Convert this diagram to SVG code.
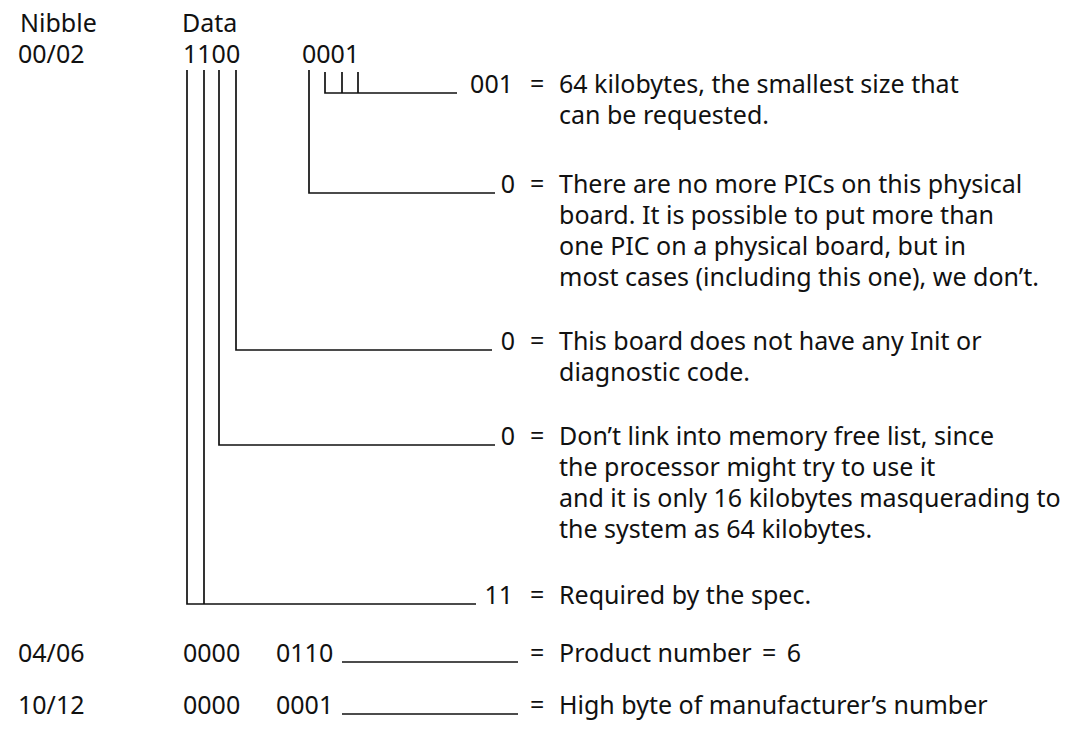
<svg xmlns="http://www.w3.org/2000/svg" width="1068" height="738" viewBox="0 0 1068 738">
<style>
text{font-family:"Noto Sans","DejaVu Sans",sans-serif;font-size:25px;fill:#111}
.v{text-anchor:end}
.ln{stroke:#111;stroke-width:1.7;fill:none}
</style>
<rect width="1068" height="738" fill="#fff"/>
<g id="headers">
<text x="20" y="32">Nibble</text>
<text x="182" y="32">Data</text>
</g>
<g id="row1">
<text x="18" y="63">00/02</text>
<text x="183" y="63">1100</text>
<text x="302" y="63">0001</text>
</g>
<g id="connectors">
<path class="ln" d="M325 72V93H457M342 72V93M358 72V93"/>
<path class="ln" d="M309 70V193H495"/>
<path class="ln" d="M236 70V350H492"/>
<path class="ln" d="M219 70V445H495"/>
<path class="ln" d="M204 70V604M187 70V604H476"/>
<path class="ln" d="M342 662H518"/>
<path class="ln" d="M342 714H518"/>
</g>
<g id="d1">
<text class="v" x="513" y="93">001</text>
<text x="530" y="93">=</text>
<text x="559" y="93">64 kilobytes, the smallest size that</text>
<text x="559" y="124">can be requested.</text>
</g>
<g id="d2">
<text class="v" x="515" y="193">0</text>
<text x="530" y="193">=</text>
<text x="559" y="193">There are no more PICs on this physical</text>
<text x="559" y="224">board. It is possible to put more than</text>
<text x="559" y="255">one PIC on a physical board, but in</text>
<text x="559" y="286">most cases (including this one), we don’t.</text>
</g>
<g id="d3">
<text class="v" x="515" y="350">0</text>
<text x="530" y="350">=</text>
<text x="559" y="350">This board does not have any Init or</text>
<text x="559" y="381">diagnostic code.</text>
</g>
<g id="d4">
<text class="v" x="515" y="445">0</text>
<text x="530" y="445">=</text>
<text x="559" y="445">Don’t link into memory free list, since</text>
<text x="559" y="476">the processor might try to use it</text>
<text x="559" y="507">and it is only 16 kilobytes masquerading to</text>
<text x="559" y="538">the system as 64 kilobytes.</text>
</g>
<g id="d5">
<text class="v" x="513" y="604">11</text>
<text x="530" y="604">=</text>
<text x="559" y="604">Required by the spec.</text>
</g>
<g id="row2">
<text x="18" y="662">04/06</text>
<text x="183" y="662">0000</text>
<text x="276" y="662">0110</text>
<text x="530" y="662">=</text>
<text x="559" y="662">Product number <tspan dx="4">=</tspan> <tspan dx="4">6</tspan></text>
</g>
<g id="row3">
<text x="18" y="714">10/12</text>
<text x="183" y="714">0000</text>
<text x="276" y="714">0001</text>
<text x="530" y="714">=</text>
<text x="559" y="714">High byte of manufacturer’s number</text>
</g>
</svg>
